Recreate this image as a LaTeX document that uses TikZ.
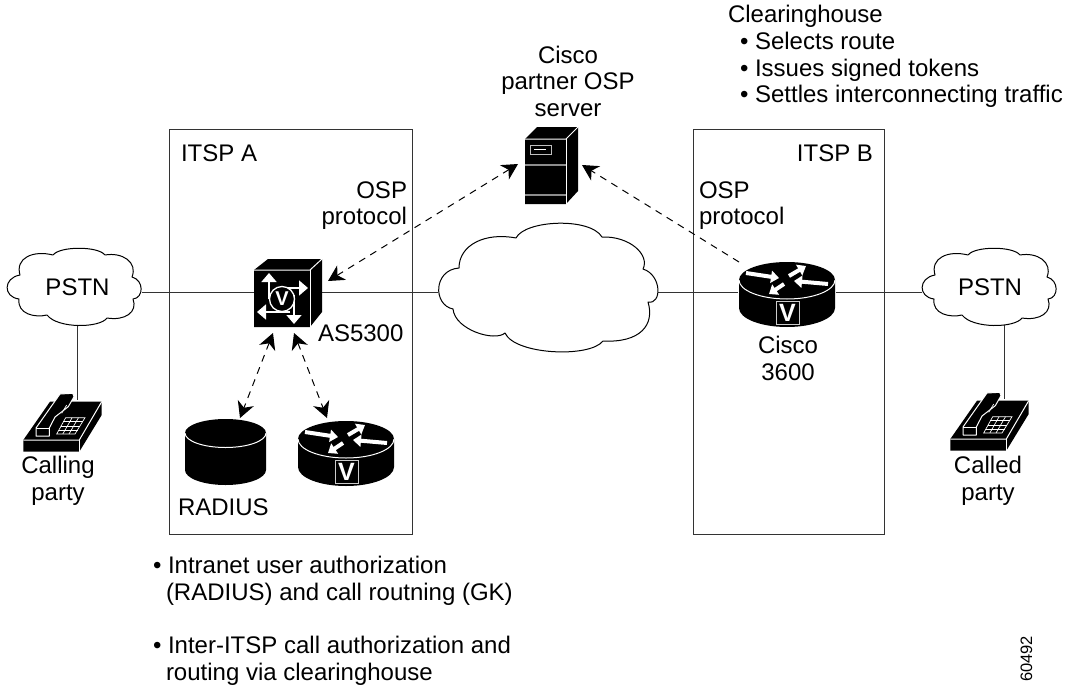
\documentclass[tikz,border=0pt]{standalone}
\usepackage{fontspec}
\setmainfont{Liberation Sans}
\usetikzlibrary{arrows.meta}
\tikzset{
  anchorbox/.style={inner sep=0pt,outer sep=0pt,draw=none,fill=none},
  lbl/.style={inner sep=0pt,outer sep=0pt,font=\fontsize{24}{26.5}\selectfont,text=black},
  link/.style={draw=black!80,line width=1pt},
  frameline/.style={draw=black!80,line width=1pt},
  dashlink/.style={draw=black,line width=1pt,dash pattern=on 7pt off 6pt,{Stealth[length=16pt,width=17pt,inset=5pt]}-{Stealth[length=16pt,width=17pt,inset=5pt]}},
  dashlinkone/.style={draw=black,line width=1pt,dash pattern=on 7pt off 6pt,-{Stealth[length=16pt,width=17pt,inset=5pt]}},
  cloudline/.style={draw=black,line width=1pt,fill=white,line join=round},
  wh/.style={draw=white,line width=1pt},
  whfat/.style={draw=white,line width=4pt,-{Triangle[length=8pt,width=12pt]}},
  whthin/.style={draw=white,line width=1.6pt,-{Triangle[length=9pt,width=15pt]}},
  pics/router/.style={code={
    \fill[black] (-48,0) arc[start angle=180,end angle=0,x radius=48,y radius=-18] -- (48,28) arc[start angle=0,end angle=180,x radius=48,y radius=19] -- cycle;
    \draw[wh] (-48,0) arc[start angle=180,end angle=360,x radius=48,y radius=-19];
    \draw[whfat] (-41,-7) -- (-8,-2);
    \draw[whfat] (2,-4) -- (19,-14);
    \draw[whfat] (41,4) -- (7,1);
    \draw[whfat] (-3,4) -- (-18,14);
    \draw[draw=black!20,line width=1pt,fill=black] (-11,21) rectangle (12,44);
    \node[inner sep=0pt,text=white,font=\fontsize{25}{25}\bfseries\selectfont] at (0.5,32.5) {V};
  }},
  pics/phone/.style={code={
    \fill[black] (23.3,440) -- (50,401.7) -- (101.7,401.7) -- (101.7,415) -- (79.3,451.7) -- (23.3,451.7) -- cycle;
    \draw[wh] (23.3,440) -- (79.3,440) -- (101.7,401.7);
    \draw[wh] (79.3,440) -- (79.3,451.7);
    \draw[wh,fill=black,line join=round] (36,428) -- (60,394) -- (72.7,393.3) -- (74,396.7) -- (68.3,406.7) -- (55,417) -- (49.3,428) -- (49.3,436) -- (36,436) -- cycle;
    \draw[wh] (36,428) -- (49.3,428);
    \draw[wh,line width=.7pt] (65.7,417.7) -- (85,417.7) -- (75,434) -- (56.7,434) -- cycle;
    \draw[wh,line width=.7pt] (63.2,421.8) -- (82.5,421.8) (60.9,425.9) -- (80,425.9) (58.8,430) -- (77.5,430);
    \draw[wh,line width=.7pt] (72.1,417.7) -- (62.8,434) (78.5,417.7) -- (69,434);
    \draw[wh,line width=.7pt] (66.7,405) -- (61.7,413.3);
  }},
  pics/pstncloud/.style={code={
    \draw[cloudline] (20,275) .. controls (15,258) and (33,250) .. (53,255)
      .. controls (60,246) and (98,246) .. (105,255)
      .. controls (122,252) and (138,262) .. (132,277)
      .. controls (144,280) and (144,298) .. (133,299)
      .. controls (138,312) and (125,321) .. (107,318)
      .. controls (100,328) and (58,329) .. (47,315)
      .. controls (35,318) and (17,314) .. (19,299)
      .. controls (3,297) and (3,278) .. (20,275) -- cycle;
  }}
}
\begin{document}
\begin{tikzpicture}[x=1pt,y=-1pt]
\useasboundingbox (0,0) rectangle (1065,688);
% invisible named nodes for every icon
\node[anchorbox,minimum width=130pt,minimum height=66pt] (pstnA) at (77,292) {};
\node[anchorbox,minimum width=132pt,minimum height=66pt] (pstnB) at (988,292) {};
\node[anchorbox,minimum width=68pt,minimum height=68pt] (as) at (288,292) {};
\node[anchorbox,minimum width=219pt,minimum height=120pt] (net) at (547.5,292) {};
\node[anchorbox,minimum width=98pt,minimum height=70pt] (rtB) at (787,292) {};
\node[anchorbox,minimum width=53pt,minimum height=77pt] (srv) at (551.5,165.5) {};
\node[anchorbox,minimum width=81pt,minimum height=66pt] (radius) at (225.5,452.5) {};
\node[anchorbox,minimum width=96pt,minimum height=65pt] (rtA) at (346,453.5) {};
\node[anchorbox,minimum width=48pt,minimum height=52pt] (phA) at (77,426) {};
\node[anchorbox,minimum width=48pt,minimum height=52pt] (phB) at (1004,425) {};
% frames
\draw[frameline] (169.5,129) rectangle (412.5,534);
\draw[frameline] (693,129) rectangle (884,534);
% solid links
\draw[link] (pstnA.east) -- (as.west);
\draw[link] (as.east) -- (net.west);
\draw[link] (net.east) -- (rtB.west);
\draw[link] (rtB.east) -- (pstnB.west);
\draw[link] (phA.north |- pstnA.south) -- (phA.north);
\draw[link] (phB.north |- pstnB.south) -- (phB.north);
% clouds
\pic at (0,0) {pstncloud};
\pic at (915,0) {pstncloud};
\draw[cloudline] (459,268) .. controls (459,245) and (485,232) .. (516,238)
  .. controls (525,220) and (590,217) .. (602,237)
  .. controls (630,236) and (650,255) .. (643,269)
  .. controls (662,275) and (662,305) .. (648,302)
  .. controls (655,325) and (640,343) .. (603,341)
  .. controls (590,358) and (515,355) .. (505,333)
  .. controls (495,342) and (455,330) .. (453,309)
  .. controls (433,305) and (433,270) .. (459,268) -- cycle;
% AS5300
\fill[black] (254,270) -- (268,259) -- (322,259) -- (322,312) -- (310,327) -- (254,327) -- cycle;
\draw[wh] (254,270) -- (310,270) -- (322,259);
\draw[wh] (310,270) -- (310,327);
\draw[whthin] (269,299) -- (269,273);
\draw[whthin] (285,288) -- (308,288);
\draw[whthin] (290,312) -- (257,312);
\draw[whthin] (294,295) -- (294,324);
\draw[draw=white,line width=1.3pt,fill=black] (282,299) circle[radius=12.5];
\node[inner sep=0pt,text=white,font=\fontsize{20}{20}\bfseries\selectfont] at (282,299) {V};
% server
\fill[black] (525,139) -- (537,127) -- (578,127) -- (578,191) -- (566,204) -- (525,204) -- cycle;
\draw[wh] (525,139) -- (566,139) -- (578,127);
\draw[wh] (566,139) -- (566,204);
\draw[draw=black!45,line width=2pt] (525,164.5) -- (566,164.5) (525,195) -- (566,195);
\draw[draw=black!25,line width=1pt] (530,145.5) rectangle (551,154);
\draw[wh] (534,149.7) -- (546,149.7);
% radius cylinder
\fill[black] (185,433) arc[start angle=180,end angle=0,x radius=40.5,y radius=-14] -- (266,470) arc[start angle=0,end angle=180,x radius=40.5,y radius=15] -- cycle;
\draw[wh] (185,433) arc[start angle=180,end angle=360,x radius=40.5,y radius=-14.5];
% routers and phones
\pic at (346,439) {router};
\pic at (787,280) {router};
\pic at (0,0) {phone};
\pic at (927,-1) {phone};
% dashed links
\draw[dashlink] ([shift={(6,-11)}]as.east) -- ([shift={(-7,-1.5)}]srv.west);
\draw[dashlinkone] ([shift={(-48,-30)}]rtB.center) -- ([shift={(4,-0.5)}]srv.east);
\draw[dashlink] ([shift={(-15,7)}]as.south) -- ([shift={(14.5,-1.5)}]radius.north);
\draw[dashlink] ([shift={(6,7)}]as.south) -- ([shift={(-19,-3)}]rtA.north);
% labels
\node[lbl,anchor=base west] (t1) at (728,23) {Clearinghouse};
\node[lbl,anchor=base west] (t2) at (740,49) {• Selects route};
\node[lbl,anchor=base west] (t3) at (740,76) {• Issues signed tokens};
\node[lbl,anchor=base west] (t4) at (740,102) {• Settles interconnecting traffic};
\node[lbl,anchor=base] (t5) at (568,63) {Cisco};
\node[lbl,anchor=base] (t6) at (568,89) {partner OSP};
\node[lbl,anchor=base] (t7) at (568,116) {server};
\node[lbl,anchor=base west] (t8) at (181,161.5) {ITSP A};
\node[lbl,anchor=base east] (t9) at (873,161.5) {ITSP B};
\node[lbl,anchor=base east] (t10) at (407,198) {OSP};
\node[lbl,anchor=base east] (t11) at (407,224.5) {protocol};
\node[lbl,anchor=base west] (t12) at (699,198) {OSP};
\node[lbl,anchor=base west] (t13) at (699,224.5) {protocol};
\node[lbl,anchor=base] (t14) at (77.5,295) {PSTN};
\node[lbl,anchor=base] (t15) at (990,295) {PSTN};
\node[lbl,anchor=base west] (t16) at (318,341) {AS5300};
\node[lbl,anchor=base] (t17) at (788,353) {Cisco};
\node[lbl,anchor=base] (t18) at (788,380) {3600};
\node[lbl,anchor=base] (t19) at (58,473) {Calling};
\node[lbl,anchor=base] (t20) at (58,500) {party};
\node[lbl,anchor=base] (t21) at (988,473) {Called};
\node[lbl,anchor=base] (t22) at (988,500) {party};
\node[lbl,anchor=base west] (t23) at (178,515) {RADIUS};
\node[lbl,anchor=base west] (t24) at (153,573) {• Intranet user authorization};
\node[lbl,anchor=base west] (t25) at (166,600) {(RADIUS) and call routning (GK)};
\node[lbl,anchor=base west] (t26) at (153,653) {• Inter-ITSP call authorization and};
\node[lbl,anchor=base west] (t27) at (166,680) {routing via clearinghouse};
\node[inner sep=0pt,anchor=base west,rotate=90,font=\fontsize{16.5}{16.5}\selectfont] (t28) at (1032,682) {60492};
\end{tikzpicture}
\end{document}
